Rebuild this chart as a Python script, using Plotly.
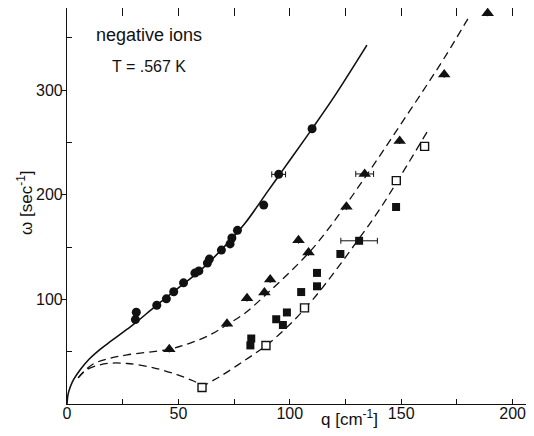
import plotly.graph_objects as go

# ---- data ----
circ_q = [31.1, 30.7, 40.3, 44.6, 47.9, 52.3, 57.4, 59.2, 63.0, 63.9, 69.3, 73.2, 74.0, 76.5, 88.3, 95.0, 110.0]
circ_w = [87.7, 80.7, 94.4, 100.5, 107.3, 115.8, 125.1, 127.2, 134.7, 138.5, 147.1, 153.0, 158.7, 166.0, 190.1, 219.5, 263.1]
circ_err = [0, 0, 0, 0, 0, 0, 0, 0, 0, 0, 0, 0, 0, 0, 0, 3.1, 0]

tri_q = [45.9, 71.8, 80.8, 88.6, 91.2, 103.9, 108.4, 125.4, 133.6, 149.3, 169.3, 188.8]
tri_w = [52.3, 76.6, 101.0, 106.5, 118.9, 156.4, 144.7, 188.6, 219.9, 251.4, 315.0, 373.6]
tri_err = [0, 0, 0, 0, 0, 0, 0, 0, 4.0, 0, 0, 0]

sqf_q = [82.3, 82.7, 93.9, 96.9, 98.7, 105.1, 112.2, 112.2, 122.7, 131.1, 147.7]
sqf_w = [56.0, 62.6, 81.0, 75.5, 87.5, 107.0, 125.3, 112.5, 143.4, 156.0, 188.3]
sqf_err = [0, 0, 0, 0, 0, 0, 0, 0, 0, 8.2, 0]

sqo_q = [60.6, 89.3, 106.6, 147.8, 160.5]
sqo_w = [15.8, 55.9, 91.9, 213.5, 246.2]

# curves
solid_q = [0, 0.5, 1.5, 3, 6, 10, 15, 20, 27, 31, 40, 50, 60, 70, 80, 90, 95, 100, 110, 120, 134.6]
solid_w = [0, 9.5, 16.5, 23.5, 33, 43, 52.5, 60.5, 71.5, 78, 94, 111, 128, 149, 173, 203, 218, 233, 263, 294, 343]

dash1_q = [5, 8, 12, 18, 27, 45, 55, 65, 72, 80, 90, 100, 110, 120, 130, 140, 150, 160, 170, 180.7]
dash1_w = [25, 32, 38.5, 43, 47, 52, 58, 67, 76, 87, 106, 126, 148, 175, 205, 236, 268, 300, 333, 371]

dash2_q = [5, 9, 14, 19.4, 27, 38.9, 49.4, 56.8, 61, 66, 70, 80, 90, 100, 110, 120, 130, 140, 150, 161.6]
dash2_w = [25, 33, 37, 39, 38.7, 34.6, 28, 22, 18, 23, 28, 42, 57, 76, 99, 126, 155, 185, 219, 260]

x_ticks = [0, 50, 100, 150, 200]
y_ticks = [100, 200, 300]

FONT = "Liberation Sans"
BLACK = "#111111"

fig = go.Figure()

fig.add_trace(go.Scatter(x=solid_q, y=solid_w, mode="lines", line=dict(color=BLACK, width=1.6, shape="spline"), hoverinfo="skip"))
fig.add_trace(go.Scatter(x=dash1_q, y=dash1_w, mode="lines", line=dict(color=BLACK, width=1.3, dash="8px,5px", shape="spline"), hoverinfo="skip"))
fig.add_trace(go.Scatter(x=dash2_q, y=dash2_w, mode="lines", line=dict(color=BLACK, width=1.3, dash="8px,5px", shape="spline"), hoverinfo="skip"))

fig.add_trace(go.Scatter(x=circ_q, y=circ_w, mode="markers",
                         marker=dict(symbol="circle", size=9, color=BLACK),
                         error_x=dict(type="data", array=circ_err, color=BLACK, thickness=1, width=3)))
fig.add_trace(go.Scatter(x=tri_q, y=tri_w, mode="markers",
                         marker=dict(symbol="triangle-up", size=11, color=BLACK),
                         error_x=dict(type="data", array=tri_err, color=BLACK, thickness=1, width=3)))
fig.add_trace(go.Scatter(x=sqf_q, y=sqf_w, mode="markers",
                         marker=dict(symbol="square", size=8, color=BLACK),
                         error_x=dict(type="data", array=sqf_err, color=BLACK, thickness=1, width=3)))
fig.add_trace(go.Scatter(x=sqo_q, y=sqo_w, mode="markers",
                         marker=dict(symbol="square", size=8, color="white", line=dict(color=BLACK, width=1.4))))

# empty traces to create the mirrored tick axes (top and right)
fig.add_trace(go.Scatter(x=[None], y=[None], xaxis="x2", yaxis="y", showlegend=False, hoverinfo="skip"))
fig.add_trace(go.Scatter(x=[None], y=[None], xaxis="x", yaxis="y2", showlegend=False, hoverinfo="skip"))

XR = [0, 209.6]
YR = [0, 378.5]

# page has an 8px body margin: figure is 526x428, plot area spans page x 67..534, y 8..404
PL, PW, PB, PH = 67, 467, 404, 396

def px(x):
    return (x - PL) / PW

def py(y):
    return (PB - y) / PH

fig.update_layout(
    width=526, height=428,
    margin=dict(l=59, r=0, t=0, b=32, autoexpand=False),
    paper_bgcolor="white", plot_bgcolor="white",
    showlegend=False,
    font=dict(family=FONT, size=16, color=BLACK),
    xaxis=dict(range=XR, automargin=False, showgrid=False, zeroline=False, showline=True, linecolor=BLACK, linewidth=1.2,
               ticks="inside", ticklen=5, tickwidth=1, tickcolor=BLACK,
               tickvals=x_ticks, ticktext=[str(v) for v in x_ticks], ticklabelstandoff=-5,
               minor=dict(ticks="inside", tickvals=[25, 75, 125, 175], ticklen=5, tickcolor=BLACK),
               tickfont=dict(family=FONT, size=16, color=BLACK)),
    xaxis2=dict(range=XR, automargin=False, overlaying="x", side="top", anchor="y", showgrid=False, zeroline=False,
                showline=True, linecolor=BLACK, linewidth=1.2,
                ticks="inside", ticklen=8, tickwidth=1, tickcolor=BLACK,
                tickvals=[0, 25, 50, 75, 100, 125, 150, 175, 200], showticklabels=False),
    yaxis=dict(range=YR, automargin=False, showgrid=False, zeroline=False, showline=True, linecolor=BLACK, linewidth=1.2,
               ticks="outside", ticklen=5, tickwidth=1, tickcolor=BLACK,
               tickvals=y_ticks, ticktext=[str(v) for v in y_ticks], ticklabelstandoff=-5,
               minor=dict(ticks="inside", tickvals=[50, 150, 250, 350], ticklen=5, tickcolor=BLACK),
               tickfont=dict(family=FONT, size=16, color=BLACK)),
    yaxis2=dict(range=YR, automargin=False, overlaying="y", side="right", anchor="x", showgrid=False, zeroline=False,
                showline=False, ticks="inside", ticklen=7, tickwidth=1, tickcolor=BLACK,
                tickvals=[50, 100, 150, 200, 250, 300, 350], showticklabels=False),
)

fig.add_annotation(text="negative ions", xref="paper", yref="paper", x=px(149), y=py(35),
                   showarrow=False, xanchor="center", yanchor="middle", font=dict(family=FONT, size=18, color=BLACK))
fig.add_annotation(text="T = .567 K", xref="paper", yref="paper", x=px(149), y=py(66),
                   showarrow=False, xanchor="center", yanchor="middle", font=dict(family=FONT, size=16, color=BLACK))
fig.add_annotation(text="q [cm<sup>-1</sup>]", xref="paper", yref="paper", x=px(349), y=py(418),
                   showarrow=False, xanchor="center", yanchor="middle", font=dict(family=FONT, size=17, color=BLACK))
fig.add_annotation(text="ω [sec<sup>-1</sup>]", xref="paper", yref="paper", x=px(25), y=py(203),
                   showarrow=False, textangle=-90, xanchor="center", yanchor="middle", font=dict(family=FONT, size=17, color=BLACK))

fig.write_html("out.html")
